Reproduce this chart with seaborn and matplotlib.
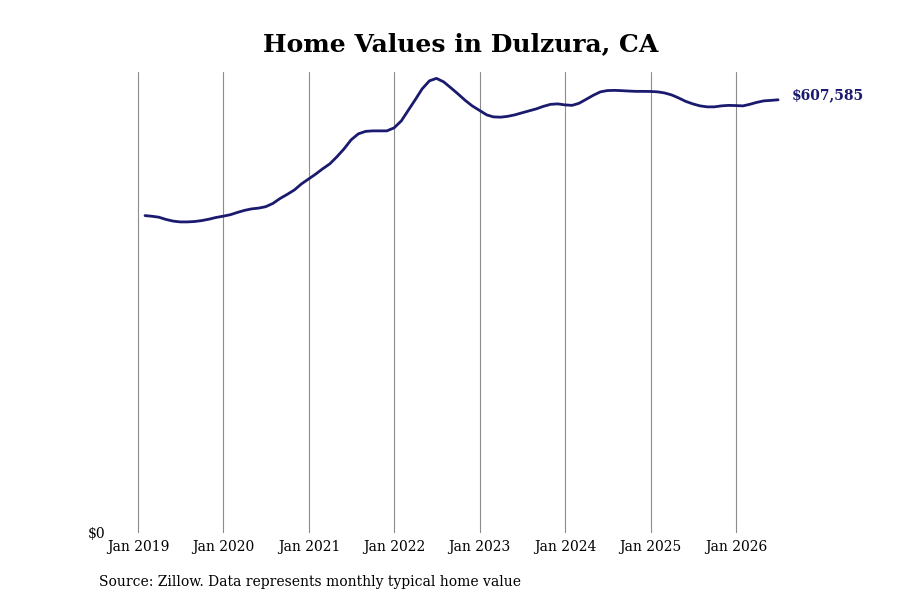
import pandas as pd
import matplotlib.pyplot as plt
import matplotlib.dates as mdates
import seaborn as sns

# Typical home value, Dulzura CA, monthly from Jan 2019
start_month = '2019-01-31'
home_values = [
    445170, 444330, 442930, 439840, 437460, 436330, 436330, 436890, 438160, 440120, 442510, 444330,
    446430, 449520, 452470, 454570, 455700, 457660, 462290, 469300, 474920, 481230, 489650, 496660,
    503680, 510690, 517710, 527530, 538750, 551380, 559800, 563300, 564010, 564010, 564010, 568220,
    578040, 592070, 607500, 622930, 634160, 637660, 632750, 624340, 615920, 606800, 599080, 592770,
    586450, 583650, 583230, 584350, 586450, 589260, 592070, 594870, 598380, 601190, 601890, 600480,
    599780, 602590, 608200, 613820, 618720, 620550, 620830, 620410, 619850, 619420, 619420, 619280,
    618720, 617320, 614510, 610310, 605390, 601890, 599080, 597680, 597680, 599080, 599780, 599500,
    599080, 601190, 603990, 606100, 606800, 607585,
]
tick_years = [2019, 2020, 2021, 2022, 2023, 2024, 2025, 2026]
title = 'Home Values in Dulzura, CA'
source_note = 'Source: Zillow. Data represents monthly typical home value'

dates = pd.date_range(start_month, periods=len(home_values), freq='ME')
df = pd.DataFrame({'date': dates, 'value': home_values})

sns.set_style('white')
plt.rcParams['font.family'] = ['DejaVu Serif']
plt.rcParams['text.color'] = 'black'
plt.rcParams['xtick.color'] = 'black'
plt.rcParams['ytick.color'] = 'black'

line_color = '#1a1a6e'

fig = plt.figure(figsize=(9, 6), dpi=100)
# axes placed in pixels: x 108..790, y 72..533
ax = fig.add_axes([108 / 900, 67 / 600, 682 / 900, 461 / 600])

sns.lineplot(data=df, x='date', y='value', ax=ax, color=line_color, linewidth=2)

# x range: Jan 2019 at px 138, Jan 2026 at px 736
tick_dates = [pd.Timestamp(f'{y}-01-01') for y in tick_years]
x0 = mdates.date2num(tick_dates[0])
x1 = mdates.date2num(tick_dates[-1])
per_px = (x1 - x0) / (736 - 138)
ax.set_xlim(x0 - (138 - 108) * per_px, x0 + (790 - 138) * per_px)
ax.set_ylim(0, max(home_values) * 1.014)

ax.set_xticks(tick_dates)
ax.set_xticklabels([f'Jan {y}' for y in tick_years], fontsize=10)
ax.set_yticks([0])
ax.set_yticklabels(['$0'], fontsize=10)
ax.tick_params(axis='both', length=0)
ax.tick_params(axis='x', pad=5)
ax.tick_params(axis='y', pad=2)
ax.set_xlabel('')
ax.set_ylabel('')

ax.grid(axis='x', color='#8c8c8c', linewidth=0.8)
ax.grid(axis='y', visible=False)
sns.despine(ax=ax, left=True, bottom=True)

# label at end of line
ax.annotate(f'${home_values[-1]:,}', xy=(dates[-1], home_values[-1]),
            xytext=(10, 3), textcoords='offset points', ha='left', va='center',
            fontsize=10, fontweight='bold', color=line_color, annotation_clip=False)

fig.text(461 / 900, 1 - 44 / 600, title, ha='center', va='center',
         fontsize=18, fontweight='bold')
fig.text(99 / 900, 1 - 582 / 600, source_note, ha='left', va='center', fontsize=10)

fig.savefig('out.png', dpi=100)
